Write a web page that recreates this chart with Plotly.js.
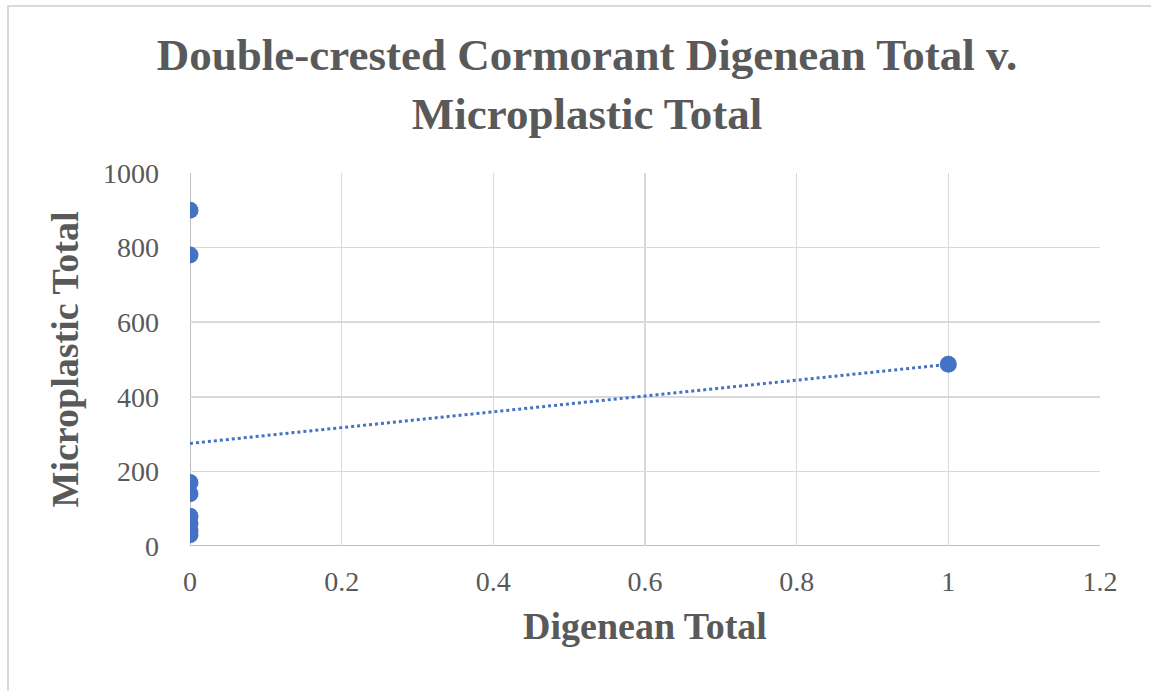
<!DOCTYPE html>
<html>
<head>
<meta charset="utf-8">
<script src="https://cdn.plot.ly/plotly-3.0.1.min.js"></script>
<style>
  html, body { margin: 0; padding: 0; background: #fff; }
  #chart { width: 1151px; height: 691px; }
  #frame { position: absolute; left: 7px; top: 5px; width: 1160px; height: 700px;
           border-left: 2px solid #d9d9d9; border-top: 2px solid #d9d9d9; pointer-events: none; }
</style>
</head>
<body>
<div id="chart"></div>
<div id="frame"></div>
<script>
// Data
const digeneanTotal = [0, 0, 0, 0, 0, 0, 0, 0, 1];
const microplasticTotal = [900, 780, 170, 140, 80, 60, 40, 30, 487];
const xTickVals = [0, 0.2, 0.4, 0.6, 0.8, 1, 1.2];
const xTickText = ['0', '0.2', '0.4', '0.6', '0.8', '1', '1.2'];
const yTickVals = [0, 200, 400, 600, 800, 1000];

// Linear trendline (least squares) from the data
const n = digeneanTotal.length;
const mx = digeneanTotal.reduce((a, b) => a + b, 0) / n;
const my = microplasticTotal.reduce((a, b) => a + b, 0) / n;
let sxy = 0, sxx = 0;
for (let i = 0; i < n; i++) {
  sxy += (digeneanTotal[i] - mx) * (microplasticTotal[i] - my);
  sxx += (digeneanTotal[i] - mx) ** 2;
}
const slope = sxy / sxx;
const intercept = my - slope * mx;
const trendX = [Math.min(...digeneanTotal), Math.max(...digeneanTotal)];
const trendY = trendX.map(x => intercept + slope * x);

const blue = '#4472C4';
const grey = '#595959';
const font = 'Liberation Serif, Times New Roman, serif';

const traces = [
  { x: trendX, y: trendY, mode: 'lines', type: 'scatter',
    line: { color: blue, width: 3, dash: 'dot' }, hoverinfo: 'skip', showlegend: false },
  { x: digeneanTotal, y: microplasticTotal, mode: 'markers', type: 'scatter',
    marker: { color: blue, size: 17 }, showlegend: false }
];

const layout = {
  width: 1151, height: 691,
  paper_bgcolor: '#ffffff', plot_bgcolor: '#ffffff',
  margin: { l: 190, r: 51, t: 173, b: 145 },
  font: { family: font, color: grey },
  title: {
    text: '<b>Double-crested Cormorant Digenean Total v.<br>Microplastic Total</b>',
    font: { family: font, size: 45, color: grey },
    x: 587 / 1151, xanchor: 'center', xref: 'container',
    y: 1 - 70 / 691, yanchor: 'top', yref: 'container'
  },
  xaxis: {
    range: [0, 1.2], tickvals: xTickVals, ticktext: xTickText,
    showgrid: true, gridcolor: '#d9d9d9', gridwidth: 1.5,
    zeroline: false, showline: false, ticks: '',
    tickfont: { family: font, size: 28, color: grey },
    ticklabelstandoff: 16,
    title: { text: '<b>Digenean Total</b>', font: { family: font, size: 38, color: grey }, standoff: 16 },
    fixedrange: true
  },
  yaxis: {
    range: [0, 1000], tickvals: yTickVals,
    showgrid: true, gridcolor: '#d9d9d9', gridwidth: 1.5,
    zeroline: false, showline: false, ticks: '',
    tickfont: { family: font, size: 28, color: grey },
    ticklabelstandoff: 30,
    title: { text: '<b>Microplastic Total</b>', font: { family: font, size: 38, color: grey }, standoff: 12 },
    fixedrange: true
  },
  shapes: [
    { type: 'line', xref: 'x', yref: 'paper', x0: 0, x1: 0, y0: 0, y1: 1,
      line: { color: '#bfbfbf', width: 2 }, layer: 'below' },
    { type: 'line', xref: 'paper', yref: 'y', x0: 0, x1: 1, y0: 0, y1: 0,
      line: { color: '#bfbfbf', width: 2 }, layer: 'below' }
  ]
};

Plotly.newPlot('chart', traces, layout, { displayModeBar: false, staticPlot: true });
</script>
</body>
</html>
